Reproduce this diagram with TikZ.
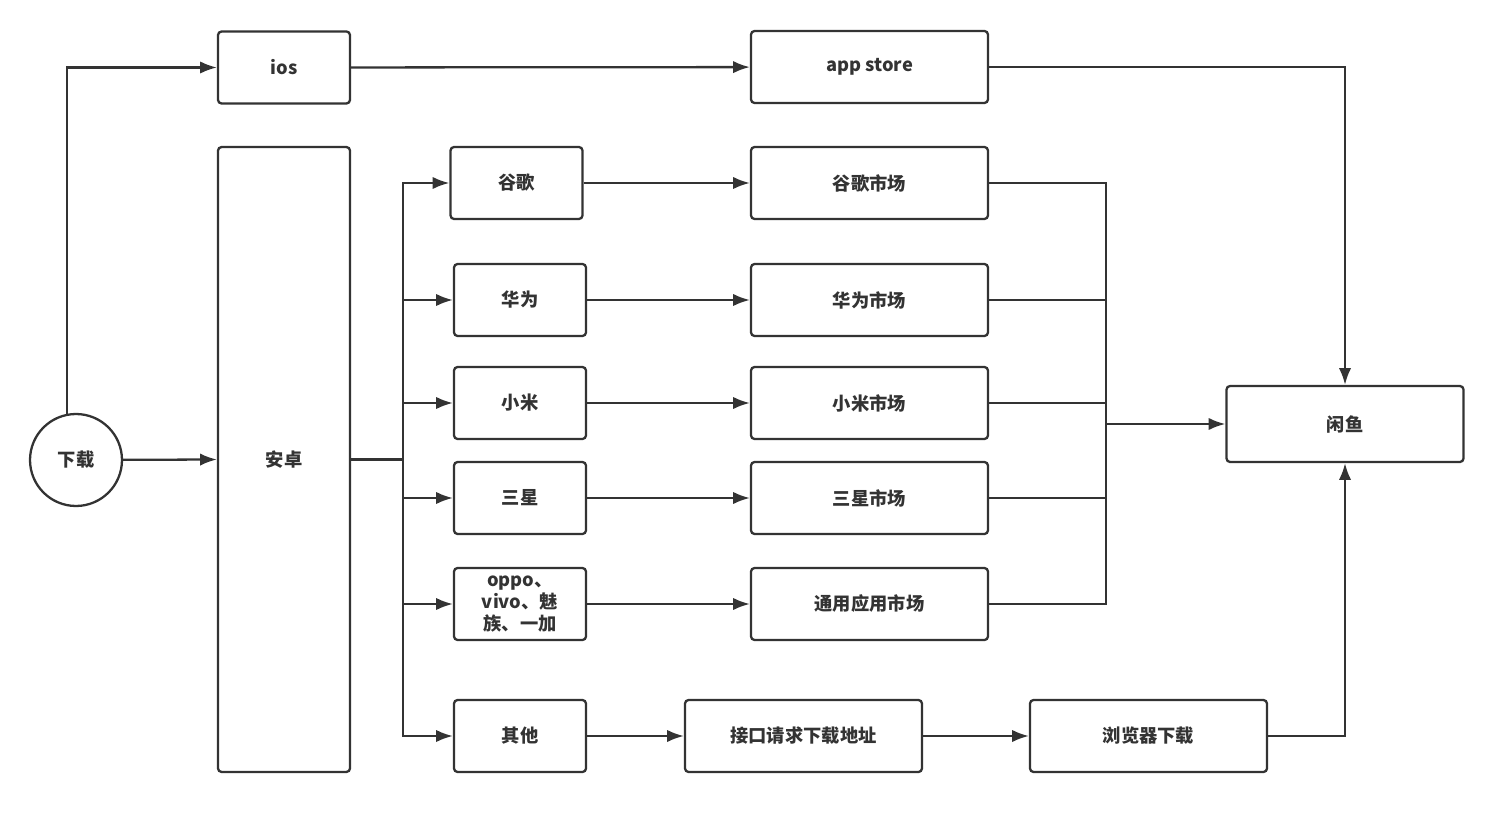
\documentclass[tikz,border=0pt]{standalone}
\usepackage{fontspec}
\setmainfont{Noto Sans CJK SC}
\usepackage{xcolor}
\usetikzlibrary{arrows.meta, positioning, calc}
\definecolor{linegray}{HTML}{333333}
\tikzstyle{block} = [rectangle, draw=linegray, line width=1.3pt, rounded corners=2pt, text=linegray, minimum height=1.44cm, align=center]
\tikzstyle{small} = [block, minimum width=2.64cm]
\tikzstyle{wide} = [block, minimum width=4.74cm]
\tikzstyle{line} = [draw=linegray, line width=1.3pt]
\tikzstyle{arrow} = [line, ->, >={Latex[length=9.5pt, width=7pt]}]

\begin{document}
\begin{tikzpicture}[x=0.02cm, y=-0.02cm, font=\fontsize{10.4}{12.6}\selectfont\bfseries]
    \useasboundingbox (0,0) rectangle (1500,827);
    % start
    \node (dl) [circle, draw=linegray, line width=1.3pt, minimum size=1.84cm, text=linegray] at (76,460) {下载};
    \node (ios) [small] at (284,67.5) {ios};
    \node (andr) [small, minimum height=12.5cm] at (284,459.5) {安卓};

    % vendors
    \node (gg) [small] at (516.5,183) {谷歌};
    \node (hw) [small] at (520,300) {华为};
    \node (xm) [small] at (520,403) {小米};
    \node (sx) [small] at (520,498) {三星};
    \node (op) [small, text width=2.2cm, inner sep=1pt] at (520,604) {oppo、\\vivo、魅\\族、一加};
    \node (qt) [small] at (520,736) {其他};

    % markets
    \node (apps) [wide] at (869.5,67) {app store};
    \node (ggm) [wide] at (869.5,183) {谷歌市场};
    \node (hwm) [wide] at (869.5,300) {华为市场};
    \node (xmm) [wide] at (869.5,403) {小米市场};
    \node (sxm) [wide] at (869.5,498) {三星市场};
    \node (tym) [wide] at (869.5,604) {通用应用市场};
    \node (api) [wide] at (803.5,736) {接口请求下载地址};
    \node (web) [wide] at (1148.5,736) {浏览器下载};
    \node (xy) [wide, minimum height=1.52cm] at (1345,424) {闲鱼};
    \coordinate (bus) at (1106,424);
    \coordinate (up) at ($(dl.north)+(-9,1)$);

    \draw[arrow] (up) |- (ios.west);
    \draw[arrow] (dl) -- (andr.west);
    \draw[arrow] (ios) -- (apps);
    \draw[arrow] (apps.east) -| (xy.north);

    \foreach \v in {gg, hw, xm, sx, op, qt}
        \draw[arrow] (andr.east) -- ++(52,0) |- (\v.west);

    \draw[arrow] (gg) -- (ggm);
    \draw[arrow] (hw) -- (hwm);
    \draw[arrow] (xm) -- (xmm);
    \draw[arrow] (sx) -- (sxm);
    \draw[arrow] (op) -- (tym);
    \draw[arrow] (qt) -- (api);
    \draw[arrow] (api) -- (web);

    \foreach \m in {ggm, hwm, xmm, sxm, tym}
        \draw[line] (\m.east) -| (bus);
    \draw[arrow] (bus) -- (xy.west);
    \draw[arrow] (web.east) -| (xy.south);
\end{tikzpicture}
\end{document}
